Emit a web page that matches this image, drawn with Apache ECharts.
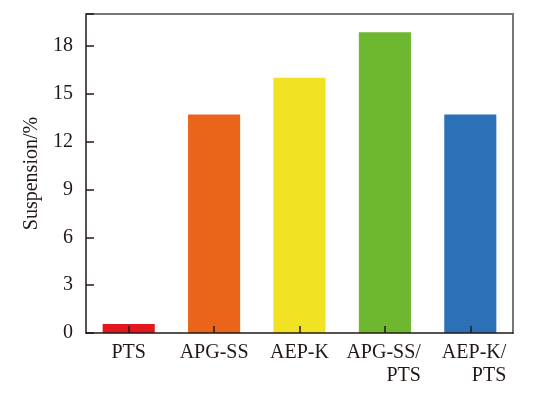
<!DOCTYPE html>
<html>
<head>
<meta charset="utf-8">
<script src="https://cdn.jsdelivr.net/npm/echarts@6/dist/echarts.min.js"></script>
<style>html,body{margin:0;padding:0;background:#fff}#c{width:542px;height:393px}</style>
</head>
<body>
<div id="c"></div>
<script>
var categories = ['PTS', 'APG-SS', 'AEP-K', 'APG-SS/\nPTS', 'AEP-K/\nPTS'];
var values = [0.56, 13.7, 16.0, 18.85, 13.7];
var colors = ['#E3171F', '#EA6519', '#F1E223', '#6DB82F', '#2C70B7'];
var yTicks = [0, 3, 6, 9, 12, 15, 18];

var font = '"Liberation Serif", "Times New Roman", serif';
var dark = '#231815';
var gray = '#777777';
var chart = echarts.init(document.getElementById('c'));
chart.setOption({
  animation: false,
  grid: { left: 86, right: 29, top: 14, bottom: 60 },
  xAxis: [{
    type: 'category', data: categories, z: 10,
    axisLine: { lineStyle: { color: dark, width: 1.5 } },
    axisTick: { show: true, inside: true, alignWithLabel: true, length: 7, lineStyle: { color: dark, width: 1.5 } },
    axisLabel: {
      interval: 0, margin: 8, color: dark, fontFamily: font, fontSize: 20, lineHeight: 23,
      formatter: function (v) {
        if (v.indexOf('\n') < 0) return v;
        return v.split('\n').map(function (p) { return '{r|' + p + '}'; }).join('\n');
      },
      rich: { r: { align: 'right', width: 72, fontFamily: font, fontSize: 20, lineHeight: 23, color: dark } }
    }
  }, {
    type: 'category', data: categories, position: 'top', z: 10,
    axisLine: { show: true, onZero: false, lineStyle: { color: gray, width: 2 } },
    axisTick: { show: false }, axisLabel: { show: false }, splitLine: { show: false }
  }],
  yAxis: [{
    type: 'value', min: 0, max: 20, interval: 3, z: 10,
    name: 'Suspension/%', nameLocation: 'middle', nameGap: 31,
    nameTextStyle: { fontFamily: font, fontSize: 20, color: dark },
    splitLine: { show: false },
    axisLine: { show: true, lineStyle: { color: dark, width: 1.5 } },
    axisTick: { show: true, inside: true, length: 8, lineStyle: { color: dark, width: 1.5 } },
    axisLabel: {
      margin: 13, color: dark, fontFamily: font, fontSize: 20,
      formatter: function (v) { return yTicks.indexOf(v) >= 0 ? String(v) : ''; }
    }
  }, {
    type: 'value', min: 0, max: 20, position: 'right', z: 10,
    axisLine: { show: true, onZero: false, lineStyle: { color: gray, width: 2 } },
    axisTick: { show: false }, axisLabel: { show: false }, splitLine: { show: false }
  }],
  series: [{
    type: 'bar', barWidth: '61%', z: 1,
    data: values.map(function (v, i) { return { value: v, itemStyle: { color: colors[i] } }; })
  }]
});
</script>
</body>
</html>
